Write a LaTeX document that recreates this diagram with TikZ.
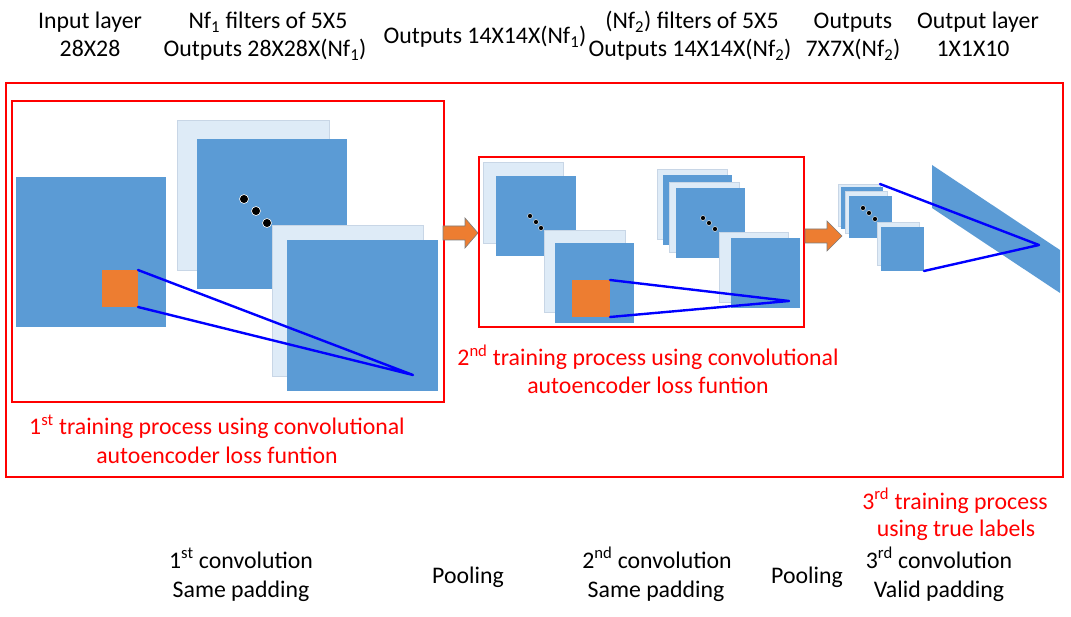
\documentclass[tikz,border=0pt]{standalone}
\usepackage{fontspec}
\setmainfont{Carlito}
\definecolor{fmblue}{RGB}{91,155,213}
\definecolor{fmlight}{RGB}{222,235,247}
\definecolor{fmedge}{RGB}{200,214,230}
\definecolor{fmorange}{RGB}{237,125,49}
\definecolor{boxred}{RGB}{255,0,0}
\definecolor{linkblue}{RGB}{0,0,255}
\definecolor{arrowedge}{RGB}{125,125,125}
\begin{document}
\begin{tikzpicture}[x=1pt,y=-1pt,
  sq/.style={anchor=north west,inner sep=0pt,outer sep=0pt},
  fmap/.style={sq,fill=fmblue},
  back/.style={sq,fill=fmlight,draw=fmedge,line width=0.8pt},
  kern/.style={sq,fill=fmorange},
  redbox/.style={draw=boxred,line width=2.8pt},
  link/.style={draw=linkblue,line width=2.4pt,line join=round,line cap=round},
  bigdot/.style={circle,fill=black,draw=white,line width=0.6pt,inner sep=0pt,minimum size=9pt},
  smalldot/.style={circle,fill=black,draw=white,line width=0.4pt,inner sep=0pt,minimum size=5pt},
  blockarrow/.style={fill=fmorange,draw=arrowedge,line width=0.6pt,line join=miter},
  txt/.style={font=\fontsize{23.8}{28}\selectfont,anchor=base,inner sep=0pt},
  rtxt/.style={txt,text=boxred}]
\useasboundingbox (0,0) rectangle (1071,617);

% red training boxes
\node[sq,redbox,minimum width=1057pt,minimum height=394pt] (outer) at (6,83) {};
\node[sq,redbox,minimum width=432pt,minimum height=301pt] (box1) at (12,101) {};
\node[sq,redbox,minimum width=325pt,minimum height=170pt] (box2) at (479,157) {};

% first stage
\node[fmap,minimum width=150pt,minimum height=150pt] (in) at (16,177) {};
\node[kern,minimum width=36pt,minimum height=37pt] (k1) at (102,270) {};
\node[back,minimum width=152pt,minimum height=150pt] (l1a) at (177,120) {};
\node[fmap,minimum width=150pt,minimum height=150pt] (d1a) at (197,139) {};
\node[bigdot] (p1a) at (244,199) {};
\node[bigdot] (p1b) at (256,211) {};
\node[bigdot] (p1c) at (267,223) {};
\node[back,minimum width=151pt,minimum height=151pt] (l1b) at (272,225) {};
\node[fmap,minimum width=151pt,minimum height=151pt] (d1b) at (287,240) {};
\coordinate (t1) at (413,375);

% arrow 1
\draw[blockarrow] (443,226) -- (465,226) -- (465,218) -- (478,233) -- (465,248) -- (465,240) -- (443,240) -- cycle;

% second stage
\node[back,minimum width=80pt,minimum height=81pt] (l2a) at (483,162) {};
\node[fmap,minimum width=80pt,minimum height=80pt] (d2a) at (496,176) {};
\node[smalldot] (p2a) at (530,216) {};
\node[smalldot] (p2b) at (536,222) {};
\node[smalldot] (p2c) at (541,228) {};
\node[back,minimum width=81pt,minimum height=82pt] (l2b) at (544,230) {};
\node[fmap,minimum width=79pt,minimum height=80pt] (d2b) at (555,243) {};
\node[kern,minimum width=38pt,minimum height=37pt] (k2) at (572,280) {};
\node[back,minimum width=70pt,minimum height=70pt] (l2c) at (657,169) {};
\node[fmap,minimum width=69pt,minimum height=70pt] (d2c) at (663,175) {};
\node[back,minimum width=70pt,minimum height=70pt] (l2d) at (669,182) {};
\node[fmap,minimum width=69pt,minimum height=70pt] (d2d) at (676,188) {};
\node[smalldot] (p2d) at (703,218) {};
\node[smalldot] (p2e) at (709,223) {};
\node[smalldot] (p2f) at (715,229) {};
\node[back,minimum width=69pt,minimum height=70pt] (l2e) at (719,232) {};
\node[fmap,minimum width=69pt,minimum height=70pt] (d2e) at (731,238) {};
\coordinate (t2) at (789,301);

% arrow 2
\draw[blockarrow] (805,229) -- (827,229) -- (827,221) -- (842,236) -- (827,251) -- (827,243) -- (805,243) -- cycle;

% third stage
\node[back,minimum width=42pt,minimum height=42pt] (l3a) at (838,184) {};
\node[fmap,minimum width=42pt,minimum height=42pt] (d3a) at (841,187) {};
\node[back,minimum width=42pt,minimum height=42pt] (l3b) at (845,191) {};
\node[fmap,minimum width=43pt,minimum height=42pt] (d3b) at (849,196) {};
\node[smalldot] (p3a) at (863,208) {};
\node[smalldot] (p3b) at (869,213) {};
\node[smalldot] (p3c) at (875,219) {};
\node[back,minimum width=42pt,minimum height=43pt] (l3c) at (877,222) {};
\node[fmap,minimum width=43pt,minimum height=44pt] (d3c) at (881,227) {};
\fill[fmblue] (932,165) -- (1060,250) -- (1060,293) -- (932,208) -- cycle;
\coordinate (t3) at (1039,245);

% receptive field links
\draw[link] (k1.north east) -- (t1) -- (k1.south east);
\draw[link] (k2.north east) -- (t2) -- (k2.south east);
\draw[link] (l3a.north east) -- (t3) -- (d3c.south east);

% top labels
\node[txt] (a1) at (90,29) {Input layer};
\node[txt] (a2) at (90,57) {28X28};
\node[txt] (b1) at (268,29) {Nf\textsubscript{1} filters of 5X5};
\node[txt] (b2) at (265,57) {Outputs 28X28X(Nf\textsubscript{1})};
\node[txt] (c1) at (485,44) {Outputs 14X14X(Nf\textsubscript{1})};
\node[txt] (d1) at (692,29) {(Nf\textsubscript{2}) filters of 5X5};
\node[txt] (d2) at (690,57) {Outputs 14X14X(Nf\textsubscript{2})};
\node[txt] (e1) at (853,29) {Outputs};
\node[txt] (e2) at (853,57) {7X7X(Nf\textsubscript{2})};
\node[txt] (f1) at (978,29) {Output layer};
\node[txt] (f2) at (973,57) {1X1X10};

% red labels
\node[rtxt] (r1a) at (217,435) {1\textsuperscript{st} training process using convolutional};
\node[rtxt] (r1b) at (217,463) {autoencoder loss funtion};
\node[rtxt] (r2a) at (648,366) {2\textsuperscript{nd} training process using convolutional};
\node[rtxt] (r2b) at (648,394) {autoencoder loss funtion};
\node[rtxt] (r3a) at (955,509) {3\textsuperscript{rd} training process};
\node[rtxt] (r3b) at (956,536) {using true labels};

% bottom labels
\node[txt] (s1a) at (241,568) {1\textsuperscript{st} convolution};
\node[txt] (s1b) at (241,597) {Same padding};
\node[txt] (s2) at (468,583) {Pooling};
\node[txt] (s3a) at (657,568) {2\textsuperscript{nd} convolution};
\node[txt] (s3b) at (656,597) {Same padding};
\node[txt] (s4) at (807,583) {Pooling};
\node[txt] (s5a) at (939,568) {3\textsuperscript{rd} convolution};
\node[txt] (s5b) at (939,597) {Valid padding};
\end{tikzpicture}
\end{document}
